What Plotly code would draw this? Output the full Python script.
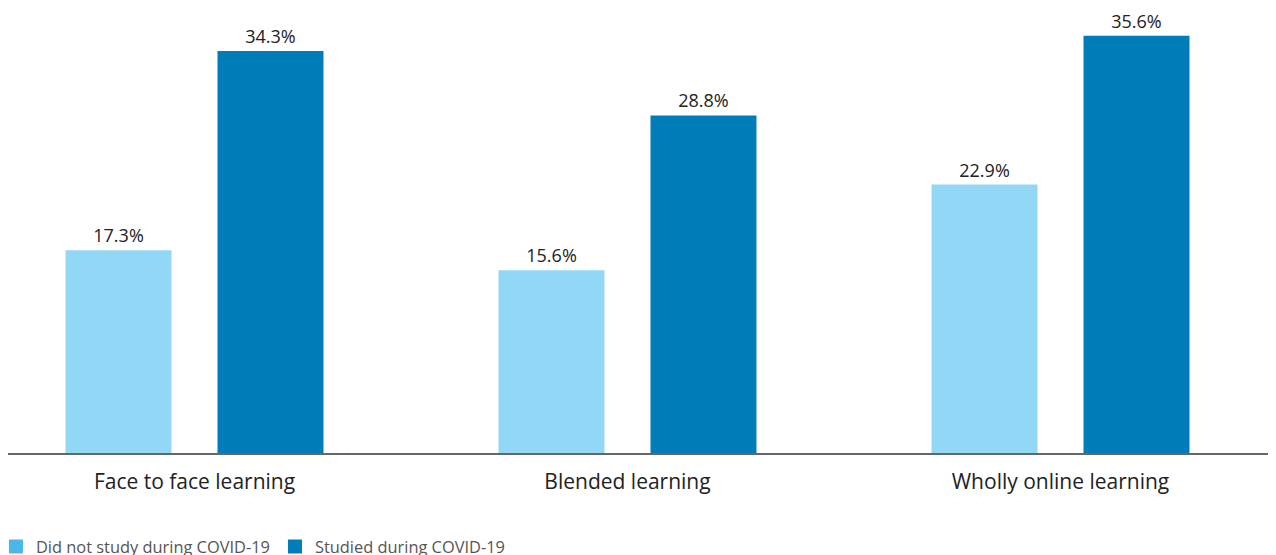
import plotly.graph_objects as go

categories = ["Face to face learning", "Blended learning", "Wholly online learning"]
series_names = ["Did not study during COVID-19", "Studied during COVID-19"]
did_not_study = [17.3, 15.6, 22.9]
studied = [34.3, 28.8, 35.6]

colors = ["#92D8F6", "#007CB8"]
legend_colors = ["#4DB6E8", "#007CB8"]

fig = go.Figure()
for name, vals, c in zip(series_names, [did_not_study, studied], colors):
    fig.add_trace(go.Bar(
        x=categories, y=vals, name=name, marker_color=c, marker_line_width=0,
        text=[f"{v:.1f}%" for v in vals], textposition="outside",
        textfont=dict(family="Open Sans", size=18, color="#222222"),
        cliponaxis=False, showlegend=False,
    ))
for name, c in zip(series_names, legend_colors):
    fig.add_trace(go.Scatter(
        x=[None], y=[None], mode="markers", name=name,
        marker=dict(symbol="square", size=14, color=c),
    ))

fig.update_layout(
    width=1276, height=555,
    margin=dict(l=0, r=8, t=0, b=110, autoexpand=False),
    paper_bgcolor="white", plot_bgcolor="white",
    barmode="group", bargap=0.298, bargroupgap=0.3026,
    font=dict(family="Open Sans", color="#222222"),
    showlegend=True,
    legend=dict(orientation="h", x=-0.0095, xanchor="left", y=-0.211, yanchor="middle",
                font=dict(family="Open Sans", size=16.4, color="#555555"),
                itemwidth=30, tracegroupgap=0),
    xaxis=dict(range=[-0.4307, 2.4977], showline=True, linecolor="#666666", linewidth=2,
               ticks="", ticklabelstandoff=9,
               tickfont=dict(family="Open Sans", size=21, color="#222222"),
               showgrid=False),
    yaxis=dict(range=[0, 37.97], visible=False, showgrid=False),
)
fig.write_html("out.html")
